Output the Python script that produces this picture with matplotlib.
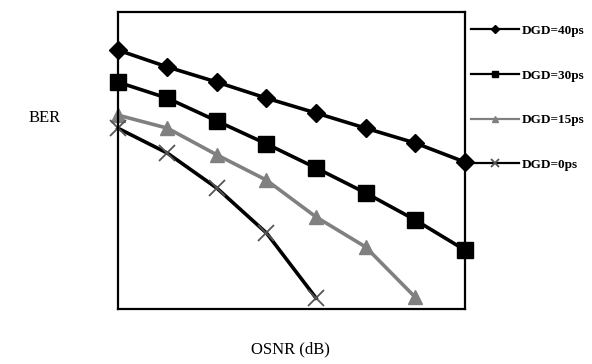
import matplotlib.pyplot as plt
import numpy as np

# OSNR steps (arbitrary positions, no tick labels in the original)
osnr = np.arange(8)

# BER curves in arbitrary log units
ber_40 = [8.72, 8.15, 7.64, 7.10, 6.60, 6.09, 5.59, 4.95]
ber_30 = [7.64, 7.10, 6.33, 5.56, 4.75, 3.91, 3.00, 1.99]
ber_15 = [6.53, 6.09, 5.19, 4.34, 3.10, 2.09, 0.40]
ber_0 = [6.09, 5.25, 4.07, 2.56, 0.37]

labels = ["DGD=40ps", "DGD=30ps", "DGD=15ps", "DGD=0ps"]

fig = plt.figure(figsize=(5.92, 3.64), dpi=100)
ax = fig.add_axes([0.199, 0.151, 0.586, 0.816])

ax.plot(osnr, ber_40, color="black", lw=2.6, marker="D", ms=9,
        mfc="black", mec="black", clip_on=False, label=labels[0])
ax.plot(osnr, ber_30, color="black", lw=2.6, marker="s", ms=11,
        mfc="black", mec="black", clip_on=False, label=labels[1])
ax.plot(osnr[:len(ber_15)], ber_15, color="#808080", lw=2.6, marker="^", ms=10,
        mfc="#808080", mec="#808080", clip_on=False, label=labels[2])
ax.plot(osnr[:len(ber_0)], ber_0, color="black", lw=2.6, marker="x", ms=12,
        mec="#555555", mew=1.3, clip_on=False, label=labels[3])

ax.set_xlim(0, 7)
ax.set_ylim(0, 10)
ax.set_xticks([])
ax.set_yticks([])
for s in ax.spines.values():
    s.set_linewidth(1.6)

leg = fig.legend(loc="upper left", bbox_to_anchor=(0.785, 0.95), frameon=False,
                 markerscale=0.45, handlelength=3.6, handletextpad=0.2,
                 borderpad=0, labelspacing=2.45,
                 prop={"family": "Liberation Serif", "weight": "bold", "size": 9.5})
for line in leg.get_lines():
    line.set_linewidth(1.6)

fig.text(0.076, 0.675, "BER", family="Liberation Serif", fontsize=12,
         ha="center", va="center")
fig.text(0.49, 0.04, "OSNR (dB)", family="Liberation Serif", fontsize=12,
         ha="center", va="center")

fig.savefig("out.png", dpi=100)
